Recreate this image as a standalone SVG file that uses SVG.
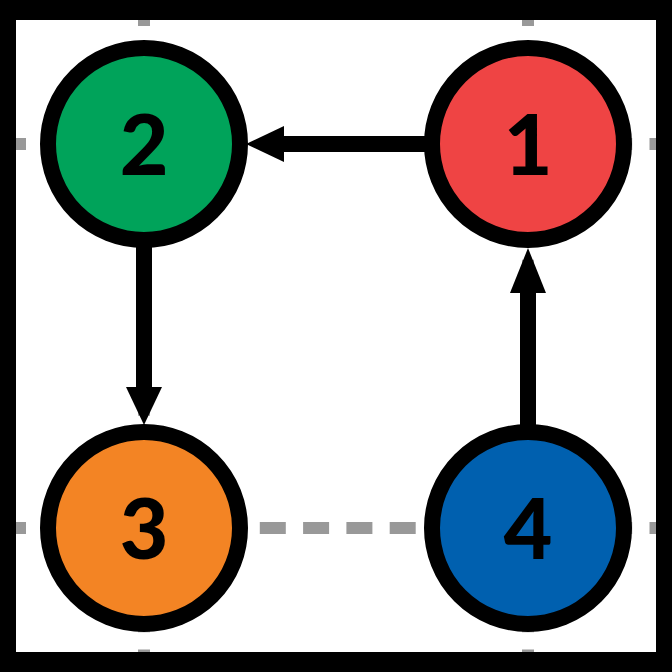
<svg xmlns="http://www.w3.org/2000/svg" width="672" height="672" viewBox="0 0 672 672">
  <style>
    .grid { stroke: #999999; stroke-width: 12; stroke-dasharray: 26 17.3; fill: none; }
    .node circle { stroke: #000000; stroke-width: 16; }
    .node text { font-family: Lato, "Liberation Sans", sans-serif; font-weight: 900; font-size: 84px; fill: #000000; text-anchor: middle; }
    .edge line { stroke: #000000; stroke-width: 16; }
    .edge polygon { fill: #000000; }
  </style>

  <!-- frame -->
  <rect x="0" y="0" width="672" height="672" fill="#000000"/>
  <rect x="16" y="20" width="640" height="632" fill="#ffffff"/>

  <!-- dashed guide grid -->
  <g id="grid">
    <line class="grid" x1="144" y1="0" x2="144" y2="672"/>
    <line class="grid" x1="528" y1="0" x2="528" y2="672"/>
    <line class="grid" x1="0" y1="144" x2="672" y2="144"/>
    <line class="grid" x1="0" y1="528" x2="672" y2="528"/>
  </g>
  <!-- re-draw frame edges over the grid ends -->
  <g fill="#000000">
    <rect x="0" y="0" width="672" height="20"/>
    <rect x="0" y="652" width="672" height="20"/>
    <rect x="0" y="0" width="16" height="672"/>
    <rect x="656" y="0" width="16" height="672"/>
  </g>

  <!-- connectors -->
  <g id="edges" class="edge">
    <!-- 1 -> 2 -->
    <line x1="430" y1="144" x2="282" y2="144"/>
    <polygon points="246,144 284,126 284,162"/>
    <!-- 2 -> 3 -->
    <line x1="144" y1="236" x2="144" y2="390"/>
    <polygon points="144,425 126,387 162,387"/>
    <!-- 4 -> 1 -->
    <line x1="528" y1="430" x2="528" y2="290"/>
    <polygon points="528,248 510,293 546,293"/>
  </g>

  <!-- nodes -->
  <g id="node1" class="node">
    <circle cx="528" cy="144" r="96" fill="#EF4444"/>
    <text x="528" y="175">1</text>
  </g>
  <g id="node2" class="node">
    <circle cx="144" cy="144" r="96" fill="#00A35A"/>
    <text x="144" y="175">2</text>
  </g>
  <g id="node3" class="node">
    <circle cx="144" cy="528" r="96" fill="#F38424"/>
    <text x="144" y="559">3</text>
  </g>
  <g id="node4" class="node">
    <circle cx="528" cy="528" r="96" fill="#0060AF"/>
    <text x="528" y="559">4</text>
  </g>
</svg>
